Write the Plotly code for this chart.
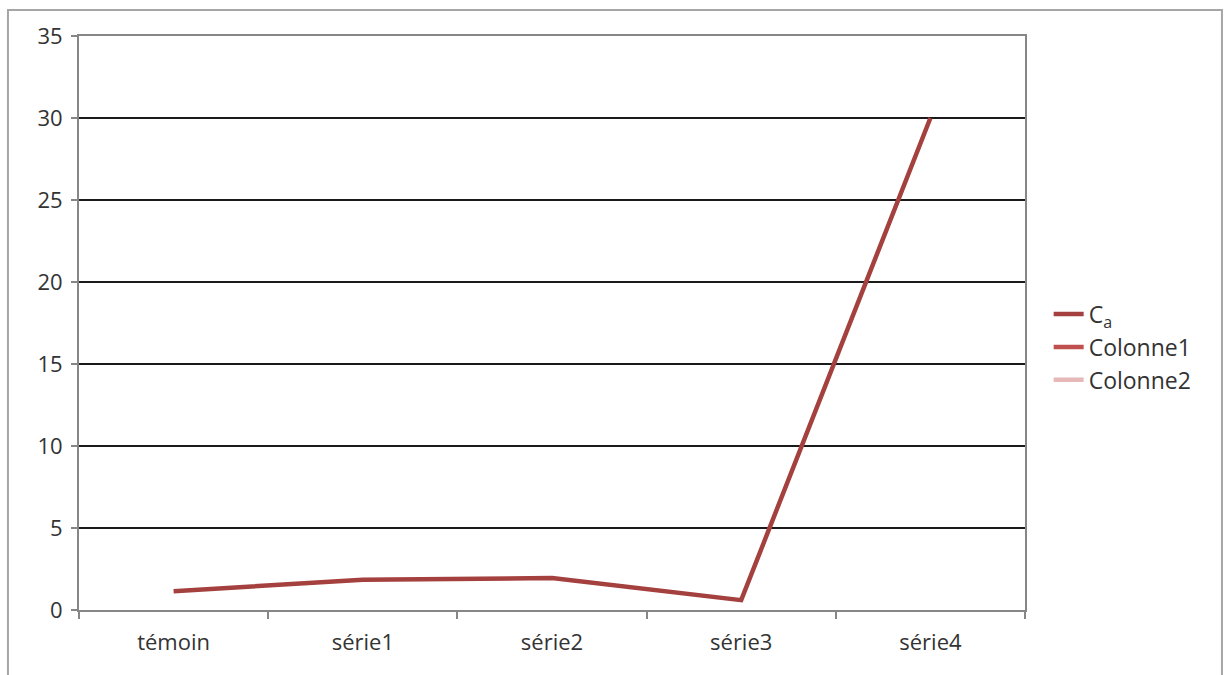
import plotly.graph_objects as go

categories = ["témoin", "série1", "série2", "série3", "série4"]
ca_values = [1.15, 1.85, 1.95, 0.6, 30]
colonne1_values = [None, None, None, None, None]
colonne2_values = [None, None, None, None, None]

fig = go.Figure()
fig.add_trace(go.Scatter(x=categories, y=ca_values, mode="lines", name="C<sub>a</sub>",
                         line=dict(color="#A4403E", width=4.5)))
fig.add_trace(go.Scatter(x=categories, y=colonne1_values, mode="lines", name="Colonne1",
                         line=dict(color="#C0504D", width=4.5)))
fig.add_trace(go.Scatter(x=categories, y=colonne2_values, mode="lines", name="Colonne2",
                         line=dict(color="#E6B9B8", width=4.5)))

font = dict(family="Open Sans, Noto Sans, sans-serif", size=22, color="#333333")

fig.update_layout(
    width=1224, height=675,
    margin=dict(l=79, r=199, t=36, b=65),
    paper_bgcolor="white", plot_bgcolor="white",
    font=font,
    showlegend=True,
    legend=dict(x=1.025, y=0.458, xanchor="left", yanchor="middle",
                font=dict(family="Open Sans, Noto Sans, sans-serif", size=23, color="#333333"),
                itemwidth=30, tracegroupgap=2, bgcolor="rgba(0,0,0,0)"),
    xaxis=dict(type="category", tickson="boundaries", ticks="outside", ticklen=7,
               tickcolor="#868686", tickwidth=2, showline=True, linecolor="#868686",
               linewidth=2, mirror=True, showgrid=False, range=[-0.5, 4.5],
               tickfont=font, zeroline=False, ticklabelstandoff=12),
    yaxis=dict(range=[0, 35], tickmode="array", tickvals=[0, 5, 10, 15, 20, 25, 30, 35],
               ticks="outside", ticklen=6, tickcolor="#868686", tickwidth=2,
               showline=True, linecolor="#868686", linewidth=2, mirror=True,
               showgrid=True, gridcolor="#1a1a1a", gridwidth=1.5, zeroline=False,
               tickfont=font, ticklabelstandoff=4),
    shapes=[dict(type="rect", xref="paper", yref="paper",
                 x0=-0.0751, x1=1.2082, y0=-0.13, y1=1.0453,
                 line=dict(color="#A6A6A6", width=2), fillcolor="rgba(0,0,0,0)",
                 layer="below")],
)

fig.write_html("out.html")
